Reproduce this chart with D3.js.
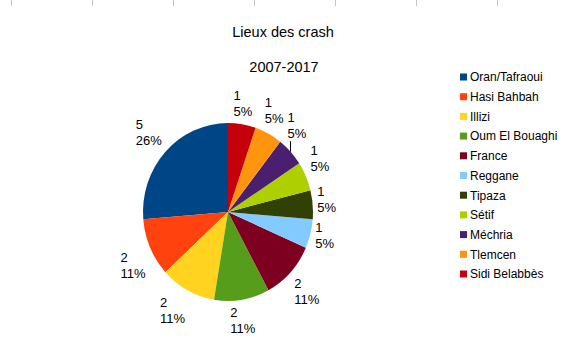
<!DOCTYPE html>
<html>
<head>
<meta charset="utf-8">
<script src="https://cdn.jsdelivr.net/npm/d3@7"></script>
<style>
  html, body { margin: 0; padding: 0; background: #ffffff; }
  svg { display: block; font-family: "Liberation Sans", Arial, sans-serif; }
</style>
</head>
<body>
<script>
// Crash sites, 2007-2017
const categories = ["Oran/Tafraoui", "Hasi Bahbah", "Illizi", "Oum El Bouaghi", "France",
  "Reggane", "Tipaza", "Sétif", "Méchria", "Tlemcen", "Sidi Belabbès"];
const crashes = [5, 2, 2, 2, 2, 1, 1, 1, 1, 1, 1];
const colors = ["#004586", "#ff420e", "#ffd320", "#579d1c", "#7e0021",
  "#83caff", "#314004", "#aecf00", "#4b1f6f", "#ff950e", "#c5000b"];
const title = "Lieux des crash";
const subtitle = "2007-2017";

const W = 572, H = 340;
const svg = d3.select("body").append("svg").attr("width", W).attr("height", H);

// ruler marks along the top edge
svg.append("g").selectAll("line").data(d3.range(7)).join("line")
  .attr("x1", i => 11.5 + i * 81).attr("x2", i => 11.5 + i * 81)
  .attr("y1", 0).attr("y2", 6)
  .attr("stroke", "#c4c4c4").attr("stroke-width", 1);

// titles
svg.append("text").attr("x", 283).attr("y", 37).attr("text-anchor", "middle")
  .attr("font-size", 14.5).attr("fill", "#000").text(title);
svg.append("text").attr("x", 284).attr("y", 72).attr("text-anchor", "middle")
  .attr("font-size", 14.5).attr("fill", "#000").text(subtitle);

// pie geometry
const cx = 228, cy = 212, rx = 85, ry = 89;
const total = d3.sum(crashes);
const data = categories.map((c, i) => ({ name: c, value: crashes[i], color: colors[i] }));

// slices run counter-clockwise from 12 o'clock
const pie = d3.pie().value(d => d.value).sort(null).startAngle(0).endAngle(-2 * Math.PI);
const arcs = pie(data);
const arc = d3.arc().innerRadius(0).outerRadius(rx);

svg.append("g")
  .attr("transform", `translate(${cx},${cy}) scale(1,${ry / rx})`)
  .selectAll("path").data(arcs).join("path")
  .attr("d", arc)
  .attr("fill", d => d.data.color);

// data labels: value and share, placed outside each slice
const gap = 5, lineH = 16, boxH = 32, base1 = 12.5;
const labelLayer = svg.append("g");
const labels = arcs.map(a => {
  let th = (a.startAngle + a.endAngle) / 2;
  th = ((th % (2 * Math.PI)) + 2 * Math.PI) % (2 * Math.PI);
  const s = Math.sin(th), c = Math.cos(th);
  const px = cx + (rx + gap) * s, py = cy - (ry + gap) * c;
  const lines = [String(a.data.value), Math.round(a.data.value / total * 100) + "%"];
  const t = labelLayer.append("text").attr("font-size", 13).attr("fill", "#000");
  const spans = lines.map((l, k) => t.append("tspan").text(l));
  const w = d3.max(spans, sp => sp.node().getComputedTextLength());
  // alignment of the label box relative to its anchor point
  let phi = 90 - th * 180 / Math.PI;
  phi = ((phi % 360) + 360) % 360;
  let ax, ay;
  if (phi === 0) { ax = 0.5; ay = 0.5; }
  else if (phi <= 22.5) { ax = 0; ay = 0.5; }
  else if (phi < 67.5) { ax = 0; ay = 1; }
  else if (phi < 112.5) { ax = 0.5; ay = 1; }
  else if (phi <= 157.5) { ax = 1; ay = 1; }
  else if (phi <= 202.5) { ax = 1; ay = 0.5; }
  else if (phi < 247.5) { ax = 1; ay = 0; }
  else if (phi < 292.5) { ax = 0.5; ay = 0; }
  else if (phi < 337.5) { ax = 0; ay = 0; }
  else { ax = 0; ay = 0.5; }
  return { th, s, c, t, spans, w, x: px - w * ax, y: py - boxH * ay, dx: 0, dy: 0,
           ex: cx + rx * s, ey: cy - ry * c };
});

// resolve overlaps: walk clockwise order backwards, sliding a label
// counter-clockwise along the rim until it clears its clockwise neighbour
const order = labels.slice().sort((a, b) => a.th - b.th);
const margin = 4;
for (let i = order.length - 2; i >= 0; i--) {
  const L = order[i], N = order[i + 1];
  const ox = Math.min(L.x + L.w, N.x + N.w) - Math.max(L.x, N.x);
  const oy = Math.min(L.y + boxH, N.y + boxH) - Math.max(L.y, N.y);
  if (ox > 0 && oy > 0) {
    const tx = -L.c, ty = -L.s;
    const cand = [];
    if (Math.abs(tx) > 1e-3) cand.push((ox + margin) / Math.abs(tx));
    if (Math.abs(ty) > 1e-3) cand.push((oy + margin) / Math.abs(ty));
    const tt = d3.min(cand);
    L.x += tx * tt; L.y += ty * tt; L.dx = tx * tt; L.dy = ty * tt;
  }
}

labels.forEach(L => {
  L.spans.forEach((sp, k) => sp.attr("x", L.x).attr("y", L.y + base1 + k * lineH));
  // leader line for labels pushed well away from their slice
  if (Math.hypot(L.dx, L.dy) > 8) {
    const nx = Math.max(L.x, Math.min(L.x + L.w, L.ex));
    const ny = Math.max(L.y, Math.min(L.y + boxH, L.ey));
    labelLayer.append("line")
      .attr("x1", L.ex).attr("y1", L.ey).attr("x2", nx).attr("y2", ny)
      .attr("stroke", "#000").attr("stroke-width", 1);
  }
});

// legend
const legend = svg.append("g");
const rows = legend.selectAll("g").data(data).join("g")
  .attr("transform", (d, i) => `translate(0,${77 + i * 19.7})`);
rows.append("rect").attr("x", 460).attr("y", -3.5).attr("width", 7).attr("height", 7)
  .attr("fill", d => d.color);
rows.append("text").attr("x", 470).attr("y", 4.3).attr("font-size", 12).attr("fill", "#000")
  .text(d => d.name);
</script>
</body>
</html>
